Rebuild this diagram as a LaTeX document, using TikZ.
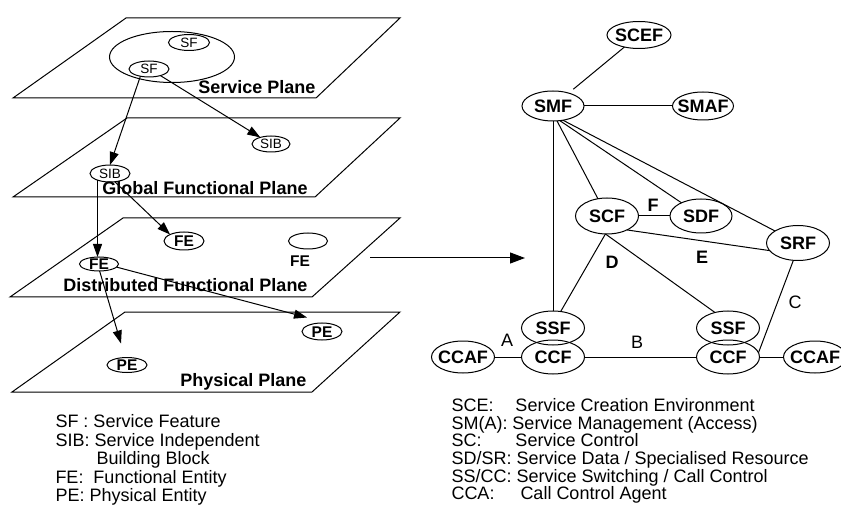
\documentclass[tikz,border=0pt]{standalone}
\usepackage{fontspec}
\setmainfont{Liberation Sans}
\usetikzlibrary{arrows.meta,shapes.geometric,calc}
\newcommand\ctext[1]{\makebox[0pt]{\raisebox{-.358em}[0pt][0pt]{#1}}}
\begin{document}
\begin{tikzpicture}[x=1bp,y=-1bp,line width=1bp,
  ell/.style 2 args={draw,ellipse,inner sep=0pt,outer sep=0pt,minimum width=#1,minimum height=#2},
  sm/.style={font=\fontsize{13.5bp}{15bp}\selectfont},
  mb/.style={font=\fontsize{15.5bp}{17bp}\selectfont\bfseries},
  bg/.style={font=\fontsize{18bp}{20bp}\selectfont\bfseries},
  rg/.style={font=\fontsize{18bp}{20bp}\selectfont},
  plab/.style={bg,anchor=base east,inner sep=0pt},
  leg/.style={rg,anchor=base west,inner sep=0pt},
  lab/.style={inner sep=0pt,anchor=center},
  arr/.style={-{Triangle[length=13bp,width=9bp]}}]
\useasboundingbox (0,0) rectangle (841,520);
\clip (0,0) rectangle (841,520);

% ---------- planes ----------
\draw (126,18) -- (400,18) -- (316,98) -- (13,98) -- cycle;
\draw (127,118) -- (400,118) -- (315,197) -- (13,197) -- cycle;
\draw (123,218) -- (400,218) -- (312,297) -- (10,297) -- cycle;
\draw (125,312) -- (400,312) -- (312,392) -- (12,392) -- cycle;

\node[plab] (pl1) at (316,94) {Service Plane};
\node[plab] (pl2) at (308,194.5) {Global Functional Plane};
\node[plab] (pl3) at (308,292) {Distributed Functional Plane};
\node[plab] (pl4) at (307,386) {Physical Plane};

% ---------- plane entities ----------
\node[ell={125bp}{51bp}] (bigE) at (172,57) {};
\node[ell={41bp}{16bp},sm] (sf1) at (189,42.5) {\ctext{SF}};
\node[ell={40bp}{16bp},sm] (sf2) at (149,69) {\ctext{SF}};
\node[ell={40bp}{17bp},sm] (sib1) at (110,173.5) {\ctext{SIB}};
\node[ell={38bp}{16bp},sm] (sib2) at (271,144) {\ctext{SIB}};
\node[ell={39bp}{14bp},mb] (fe1) at (99,264) {\ctext{FE}};
\node[ell={40bp}{18bp},mb] (fe2) at (184,241) {\ctext{FE}};
\node[ell={39bp}{16bp}] (fe3) at (308,241) {};
\node[mb,lab] (fe3t) at (300,261) {FE};
\node[ell={40bp}{15bp},mb] (pe1) at (127,365) {\ctext{PE}};
\node[ell={40bp}{17bp},mb] (pe2) at (322,331.5) {\ctext{PE}};

\draw[arr] (sf2.-140) -- (sib1.north);
\draw[arr] (sf2.-30) -- (sib2);
\draw[arr] (sib1.-152) -- (sib1.-152 |- fe1.north);
\draw[arr] (sib1.-60) -- (fe2.155);
\draw[arr] (fe1.-85) -- ($(pe1.north)+(-6,-14)$);
\draw[arr] (fe1.-10) -- ($(pe2.north)+(-15,-5.5)$);

% ---------- big arrow ----------
\coordinate (arrS) at (370,258);
\coordinate (arrE) at (525,258);
\draw[-{Triangle[length=15bp,width=11bp]}] (arrS) -- (arrE);

% ---------- right graph ----------
\node[ell={64bp}{27bp},bg] (scef) at (639,35) {\ctext{SCEF}};
\node[ell={62bp}{30bp},bg] (smf) at (553,106) {\ctext{SMF}};
\node[ell={61bp}{28bp},bg] (smaf) at (703,106) {\ctext{SMAF}};
\node[ell={63bp}{36bp},bg] (scf) at (607,216) {\ctext{SCF}};
\node[ell={62bp}{34bp},bg] (sdf) at (701,216) {\ctext{SDF}};
\node[ell={63bp}{35bp},bg] (srf) at (798,243) {\ctext{SRF}};
\node[ell={63bp}{34bp},bg] (ssf1) at (553,328) {\ctext{SSF}};
\node[ell={63bp}{34bp},bg] (ccf1) at (553,357) {\ctext{CCF}};
\node[ell={63bp}{34bp},bg] (ssf2) at (728,328) {\ctext{SSF}};
\node[ell={63bp}{34bp},bg] (ccf2) at (728,357) {\ctext{CCF}};
\node[ell={63bp}{32bp},bg] (ccaf1) at (463,357) {\ctext{CCAF}};
\node[ell={63bp}{32bp},bg] (ccaf2) at (815,357) {\ctext{CCAF}};

\draw[shorten >=6bp] (scef) -- (smf);
\draw (smf) -- (smaf);
\draw (smf.south) -- (ssf1.north);
\draw (smf.-75) -- (scf);
\draw (smf.-65) -- (sdf);
\draw (smf.-55) -- (srf);
\draw (scf) -- (sdf);
\draw (scf.-35) -- (srf.195);
\draw (scf.-95) -- (ssf1.65);
\draw (scf.-95) -- (ssf2.130);
\draw (srf.-105) -- (ccf2.8);
\draw (ccaf1) -- (ccf1);
\draw (ccf1) -- (ccf2);
\draw (ccf2) -- (ccaf2);

\node[bg,lab] (lF) at (653,205) {F};
\node[bg,lab] (lE) at (702,257) {E};
\node[bg,lab] (lD) at (612,262) {D};
\node[rg,lab] (lA) at (507,340) {A};
\node[rg,lab] (lB) at (637,342) {B};
\node[rg,lab] (lC) at (795,302) {C};

% ---------- legends ----------
\node[leg] (l1) at (55,427.5) {SF : Service Feature};
\node[leg] (l2) at (55,446.5) {SIB: Service Independent};
\node[leg] (l3) at (96,464.5) {Building Block};
\node[leg] (l4) at (55,483.5) {\makebox[38bp][l]{FE:}Functional Entity};
\node[leg] (l5) at (55,501.5) {PE: Physical Entity};

\node[leg] (r1) at (451,411.5) {\makebox[64bp][l]{SCE:}Service Creation Environment};
\node[leg] (r2) at (451,429.3) {SM(A): Service Management (Access)};
\node[leg] (r3) at (451,446.5) {\makebox[64bp][l]{SC:}Service Control};
\node[leg] (r4) at (451,464.3) {SD/SR: Service Data / Specialised Resource};
\node[leg] (r5) at (451,482.3) {SS/CC: Service Switching / Call Control};
\node[leg] (r6) at (451,499.5) {\makebox[69bp][l]{CCA:}Call Control Agent};
\end{tikzpicture}
\end{document}
